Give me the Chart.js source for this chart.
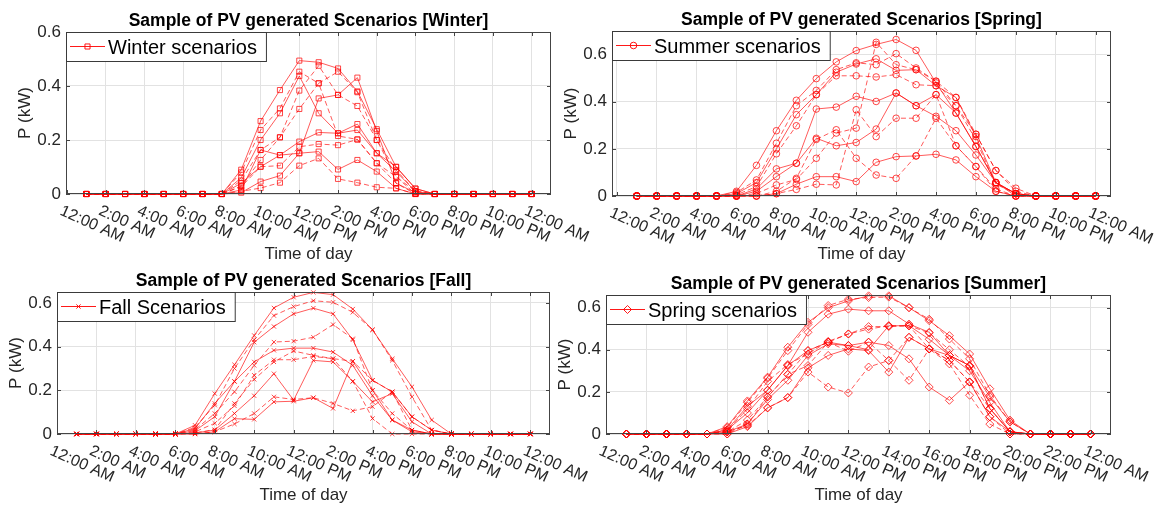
<!DOCTYPE html>
<html><head><meta charset="utf-8">
<script src="https://cdn.jsdelivr.net/npm/chart.js@4.4.1/dist/chart.umd.min.js"></script>
<style>
html,body{margin:0;padding:0;background:#fff;}
#wrap{position:relative;width:1164px;height:509px;overflow:hidden;background:#fff;}
canvas{position:absolute;left:0;top:0;}
</style></head><body><div id="wrap">
<canvas id="cWinter" width="1164" height="509"></canvas>
<canvas id="cSpring" width="1164" height="509"></canvas>
<canvas id="cFall" width="1164" height="509"></canvas>
<canvas id="cSummer" width="1164" height="509"></canvas>
</div>
<script>
// ---------------- data ----------------
const hours = [1,2,3,4,5,6,7,8,9,10,11,12,13,14,15,16,17,18,19,20,21,22,23,24];
const xTickHours = [0,2,4,6,8,10,12,14,16,18,20,22,24];
const ampmLabels = ['12:00 AM','2:00 AM','4:00 AM','6:00 AM','8:00 AM','10:00 AM','12:00 PM','2:00 PM','4:00 PM','6:00 PM','8:00 PM','10:00 PM','12:00 AM'];
const summerLabels = ['12:00 AM','2:00 AM','4:00 AM','6:00 AM','8:00 AM','10:00 AM','12:00 PM','14:00 PM','16:00 PM','18:00 PM','20:00 PM','22:00 PM','12:00 AM'];
const yTicks = [0,0.2,0.4,0.6];
const yTickLabels = ['0','0.2','0.4','0.6'];

// Winter scenarios (hours 1..24)
const winter1  = [0,0,0,0,0,0,0,0,0.09,0.27,0.385,0.494,0.488,0.465,0.38,0.24,0.10,0.02,0,0,0,0,0,0];
const winter2  = [0,0,0,0,0,0,0,0,0.08,0.237,0.317,0.453,0.41,0.453,0.377,0.2,0.089,0.01,0,0,0,0,0,0];
const winter3  = [0,0,0,0,0,0,0,0,0.06,0.2,0.299,0.437,0.299,0.225,0.259,0.151,0.083,0.009,0,0,0,0,0,0];
const winter4  = [0,0,0,0,0,0,0,0,0.05,0.163,0.21,0.383,0.475,0.367,0.326,0.2,0.064,0.01,0,0,0,0,0,0];
const winter5  = [0,0,0,0,0,0,0,0,0.04,0.101,0.144,0.151,0.354,0.367,0.431,0.233,0.04,0.005,0,0,0,0,0,0];
const winter6  = [0,0,0,0,0,0,0,0,0.03,0.126,0.21,0.315,0.41,0.215,0.202,0.114,0.064,0,0,0,0,0,0,0];
const winter7  = [0,0,0,0,0,0,0,0,0.015,0.163,0.144,0.194,0.228,0.225,0.237,0.151,0.101,0.02,0,0,0,0,0,0];
const winter8  = [0,0,0,0,0,0,0,0,0.027,0.101,0.105,0.175,0.185,0.181,0.202,0.114,0.04,0,0,0,0,0,0,0];
const winter9  = [0,0,0,0,0,0,0,0,0.005,0.046,0.068,0.151,0.157,0.091,0.126,0.083,0.021,0,0,0,0,0,0,0];
const winter10 = [0,0,0,0,0,0,0,0,0.01,0.022,0.042,0.105,0.132,0.056,0.042,0.025,0.021,0,0,0,0,0,0,0];

// "Spring" panel scenarios (legend: Summer scenarios)
const spring1  = [0,0,0,0,0,0.02,0.13,0.277,0.406,0.498,0.569,0.617,0.643,0.664,0.618,0.48,0.352,0.21,0.057,0.01,0,0,0,0];
const spring2  = [0,0,0,0,0,0.015,0.068,0.224,0.383,0.448,0.536,0.565,0.557,0.604,0.543,0.487,0.383,0.262,0.108,0.033,0,0,0,0];
const spring3  = [0,0,0,0,0,0.01,0.057,0.2,0.345,0.43,0.525,0.56,0.582,0.533,0.536,0.468,0.418,0.252,0.057,0.01,0,0,0,0];
const spring4  = [0,0,0,0,0,0.005,0.04,0.179,0.298,0.43,0.51,0.51,0.505,0.515,0.472,0.468,0.383,0.238,0.05,0.01,0,0,0,0];
const spring5  = [0,0,0,0,0,0,0.03,0.115,0.139,0.369,0.377,0.423,0.401,0.437,0.383,0.43,0.352,0.21,0.057,0,0,0,0,0];
const spring6  = [0,0,0,0,0,0,0.01,0.047,0.07,0.16,0.267,0.288,0.652,0.557,0.536,0.487,0.418,0.262,0.108,0.02,0,0,0,0];
const spring7  = [0,0,0,0,0,0,0.02,0.082,0.139,0.245,0.213,0.227,0.284,0.437,0.383,0.338,0.277,0.174,0.057,0.01,0,0,0,0];
const spring8  = [0,0,0,0,0,0,0,0.02,0.075,0.24,0.281,0.16,0.089,0.075,0.17,0.33,0.213,0.125,0.02,0,0,0,0,0];
const spring9  = [0,0,0,0,0,0,0,0.01,0.05,0.082,0.082,0.061,0.143,0.167,0.17,0.177,0.153,0.082,0.02,0,0,0,0,0];
const spring10 = [0,0,0,0,0,0,0,0.01,0.028,0.05,0.047,0.366,0.252,0.33,0.33,0.43,0.213,0.125,0.03,0,0,0,0,0];

// Fall scenarios
const fall1  = [0,0,0,0,0,0,0.04,0.185,0.317,0.451,0.577,0.626,0.648,0.638,0.572,0.477,0.345,0.216,0.064,0,0,0,0,0];
const fall2  = [0,0,0,0,0,0,0.03,0.132,0.30,0.431,0.542,0.583,0.61,0.603,0.557,0.477,0.337,0.17,0.018,0,0,0,0,0];
const fall3  = [0,0,0,0,0,0,0.025,0.14,0.241,0.42,0.492,0.55,0.576,0.55,0.431,0.246,0.193,0.079,0.018,0,0,0,0,0];
const fall4  = [0,0,0,0,0,0,0.02,0.094,0.193,0.314,0.421,0.425,0.443,0.501,0.436,0.2,0.094,0.018,0,0,0,0,0,0];
const fall5  = [0,0,0,0,0,0,0.015,0.079,0.24,0.33,0.383,0.393,0.393,0.375,0.314,0.175,0.064,0.018,0,0,0,0,0,0];
const fall6  = [0,0,0,0,0,0,0.01,0.049,0.129,0.269,0.34,0.34,0.355,0.345,0.333,0.246,0.193,0.079,0.018,0,0,0,0,0];
const fall7  = [0,0,0,0,0,0,0.005,0.018,0.094,0.175,0.276,0.155,0.337,0.33,0.241,0.147,0.185,0.056,0,0,0,0,0,0];
const fall8  = [0,0,0,0,0,0,0,0.01,0.046,0.094,0.17,0.158,0.166,0.14,0.106,0.125,0.193,0.018,0,0,0,0,0,0];
const fall9  = [0,0,0,0,0,0,0,0.01,0.07,0.067,0.147,0.15,0.166,0.117,0.333,0.2,0.064,0.01,0,0,0,0,0,0];
const fall10 = [0,0,0,0,0,0,0.005,0.02,0.14,0.25,0.33,0.38,0.36,0.345,0.241,0.071,0,0,0,0,0,0,0,0];

// "Summer" panel scenarios (legend: Spring scenarios)
const summer1  = [0,0,0,0,0,0.035,0.157,0.27,0.412,0.53,0.6,0.632,0.656,0.656,0.6,0.538,0.467,0.38,0.215,0.066,0,0,0,0];
const summer2  = [0,0,0,0,0,0.03,0.15,0.265,0.396,0.52,0.61,0.64,0.648,0.65,0.6,0.545,0.451,0.357,0.184,0.058,0,0,0,0];
const summer3  = [0,0,0,0,0,0.02,0.132,0.208,0.325,0.483,0.569,0.593,0.585,0.585,0.522,0.483,0.373,0.325,0.176,0.058,0,0,0,0];
const summer4  = [0,0,0,0,0,0.01,0.066,0.176,0.283,0.396,0.436,0.475,0.498,0.514,0.514,0.404,0.349,0.247,0.121,0.011,0,0,0,0];
const summer5  = [0,0,0,0,0,0.01,0.047,0.164,0.255,0.373,0.428,0.42,0.436,0.42,0.357,0.223,0.16,0.247,0.082,0.011,0,0,0,0];
const summer6  = [0,0,0,0,0,0.01,0.04,0.124,0.173,0.294,0.223,0.195,0.318,0.349,0.459,0.404,0.333,0.184,0.047,0,0,0,0,0];
const summer7  = [0,0,0,0,0,0,0.035,0.124,0.173,0.314,0.373,0.404,0.396,0.294,0.459,0.404,0.373,0.325,0.121,0.01,0,0,0,0];
const summer8  = [0,0,0,0,0,0,0.047,0.176,0.283,0.325,0.436,0.393,0.436,0.349,0.255,0.404,0.349,0.247,0.082,0,0,0,0,0];
const summer9  = [0,0,0,0,0,0.02,0.1,0.208,0.325,0.396,0.436,0.42,0.4,0.514,0.514,0.45,0.373,0.3,0.15,0.01,0,0,0,0];
const summer10 = [0,0,0,0,0,0.015,0.12,0.25,0.33,0.38,0.44,0.475,0.51,0.51,0.514,0.48,0.4,0.32,0.121,0.011,0,0,0,0];

// ---------------- drawing ----------------
const FONT = '"Liberation Sans", Arial, Helvetica, sans-serif';
const TXT = '#262626';
const Y_AXIS_W = 40;

function decorPlugin(cfg){
  return {
    id: 'decor',
    afterDraw(chart){
      const c = chart.ctx, a = chart.chartArea, xs = chart.scales.x, ys = chart.scales.y;
      c.save();
      // axes box + inward ticks
      c.strokeStyle = '#444'; c.lineWidth = 1; c.setLineDash([]);
      c.beginPath();
      xTickHours.forEach(v => {
        const px = Math.round(xs.getPixelForValue(v)) + 0.5;
        if (px < a.left || px > a.right) return;
        c.moveTo(px, a.bottom); c.lineTo(px, a.bottom - 4);
        c.moveTo(px, a.top); c.lineTo(px, a.top + 4);
      });
      yTicks.forEach(v => {
        const py = Math.round(ys.getPixelForValue(v)) + 0.5;
        c.moveTo(a.left, py); c.lineTo(a.left + 4, py);
        c.moveTo(a.right, py); c.lineTo(a.right - 4, py);
      });
      c.stroke();
      c.strokeRect(a.left + 0.5, a.top + 0.5, a.right - a.left - 1, a.bottom - a.top - 1);

      // rotated x tick labels
      c.fillStyle = TXT;
      c.font = '16px ' + FONT;
      c.textAlign = 'left'; c.textBaseline = 'top';
      cfg.xLabels.forEach((lab, i) => {
        const px = xs.getPixelForValue(xTickHours[i]);
        c.save();
        c.translate(px - 3, a.bottom + 9);
        c.rotate(24 * Math.PI / 180);
        c.fillText(lab, 0, 0);
        c.restore();
      });

      // axis titles
      c.font = '17px ' + FONT;
      c.textAlign = 'center'; c.textBaseline = 'alphabetic';
      c.fillText('Time of day', (a.left + a.right) / 2, cfg.xTitleY);
      c.save();
      c.translate(a.left - 41, (a.top + a.bottom) / 2);
      c.rotate(-Math.PI / 2);
      c.textBaseline = 'middle';
      c.fillText('P (kW)', 0, 0);
      c.restore();

      // title
      c.font = 'bold 17.5px ' + FONT;
      c.textAlign = 'center'; c.textBaseline = 'alphabetic';
      c.fillStyle = '#000';
      c.fillText(cfg.title, (a.left + a.right) / 2, a.top - 6);

      // legend
      c.font = '20px ' + FONT;
      const tw = c.measureText(cfg.legend).width;
      const lx = a.left, ly = a.top, lh = 29, textOff = 42;
      const lw = textOff + tw + 9;
      c.fillStyle = '#fff';
      c.fillRect(lx, ly, lw, lh);
      c.strokeStyle = '#3a3a3a'; c.lineWidth = 1;
      c.strokeRect(lx + 0.5, ly + 0.5, lw, lh);
      const my = ly + 14.5;
      c.strokeStyle = 'rgba(255,0,0,0.9)'; c.lineWidth = 1;
      c.beginPath(); c.moveTo(lx + 4, my); c.lineTo(lx + 39, my); c.stroke();
      c.fillStyle = 'rgba(0,0,0,0)';
      Chart.helpers.drawPoint(c, {pointStyle: cfg.marker, rotation: 0, radius: cfg.r, borderWidth: 1}, lx + 21.5, my);
      c.fillStyle = '#000';
      c.textAlign = 'left'; c.textBaseline = 'alphabetic';
      c.fillText(cfg.legend, lx + textOff, ly + 22);
      c.restore();
    }
  };
}

function makePanel(cfg){
  const datasets = cfg.series.map((s, i) => ({
    data: hours.map((h, k) => ({x: h, y: s[k]})),
    borderColor: 'rgba(255,0,0,0.72)',
    borderWidth: 0.9,
    borderDash: (i % 2) ? [5, 3] : [],
    pointStyle: cfg.marker,
    pointRadius: cfg.r,
    pointBorderWidth: 0.9,
    pointBorderColor: 'rgba(255,0,0,0.8)',
    pointBackgroundColor: 'rgba(0,0,0,0)',
    tension: 0,
    fill: false,
    clip: 8
  }));
  const A = cfg.area;
  new Chart(document.getElementById(cfg.id), {
    type: 'line',
    data: {datasets},
    options: {
      responsive: false, animation: false, events: [],
      layout: {padding: {left: A.l - Y_AXIS_W, top: A.t, right: 1164 - A.r, bottom: 509 - A.b}},
      plugins: {legend: {display: false}, tooltip: {enabled: false}, title: {display: false}},
      scales: {
        x: {
          type: 'linear', min: cfg.xmin, max: cfg.xmax,
          afterFit(s){ s.height = 0; },
          afterBuildTicks(s){ s.ticks = xTickHours.map(v => ({value: v})); },
          ticks: {display: false},
          grid: {color: '#e2e2e2', lineWidth: 1, drawTicks: false},
          border: {display: false}
        },
        y: {
          type: 'linear', min: 0, max: cfg.ymax,
          afterFit(s){ s.width = Y_AXIS_W; },
          afterBuildTicks(s){ s.ticks = yTicks.map(v => ({value: v})); },
          ticks: {color: TXT, font: {family: FONT, size: 17}, padding: 5,
                  callback: (v, i) => yTickLabels[i]},
          grid: {color: '#e2e2e2', lineWidth: 1, drawTicks: false},
          border: {display: false}
        }
      }
    },
    plugins: [decorPlugin(cfg)]
  });
}

makePanel({id: 'cWinter', area: {l: 66, r: 551, t: 32, b: 194}, xmin: -0.05, xmax: 25, ymax: 0.6,
  marker: 'rect', r: 3.6, title: 'Sample of PV generated Scenarios [Winter]', legend: 'Winter scenarios',
  xLabels: ampmLabels, xTitleY: 259,
  series: [winter1, winter2, winter3, winter4, winter5, winter6, winter7, winter8, winter9, winter10]});
makePanel({id: 'cSpring', area: {l: 612, r: 1111, t: 31, b: 196}, xmin: -0.24, xmax: 24.77, ymax: 0.7,
  marker: 'circle', r: 3.3, title: 'Sample of PV generated Scenarios [Spring]', legend: 'Summer scenarios',
  xLabels: ampmLabels, xTitleY: 259,
  series: [spring1, spring2, spring3, spring4, spring5, spring6, spring7, spring8, spring9, spring10]});
makePanel({id: 'cFall', area: {l: 57, r: 550, t: 292, b: 434}, xmin: 0, xmax: 25, ymax: 0.65,
  marker: 'crossRot', r: 3, title: 'Sample of PV generated Scenarios [Fall]', legend: 'Fall Scenarios',
  xLabels: ampmLabels, xTitleY: 500,
  series: [fall1, fall2, fall3, fall4, fall5, fall6, fall7, fall8, fall9, fall10]});
makePanel({id: 'cSummer', area: {l: 606, r: 1111, t: 295, b: 434}, xmin: 0, xmax: 25, ymax: 0.66,
  marker: 'rectRot', r: 4, title: 'Sample of PV generated Scenarios [Summer]', legend: 'Spring scenarios',
  xLabels: summerLabels, xTitleY: 500,
  series: [summer1, summer2, summer3, summer4, summer5, summer6, summer7, summer8, summer9, summer10]});
</script>
</body></html>
